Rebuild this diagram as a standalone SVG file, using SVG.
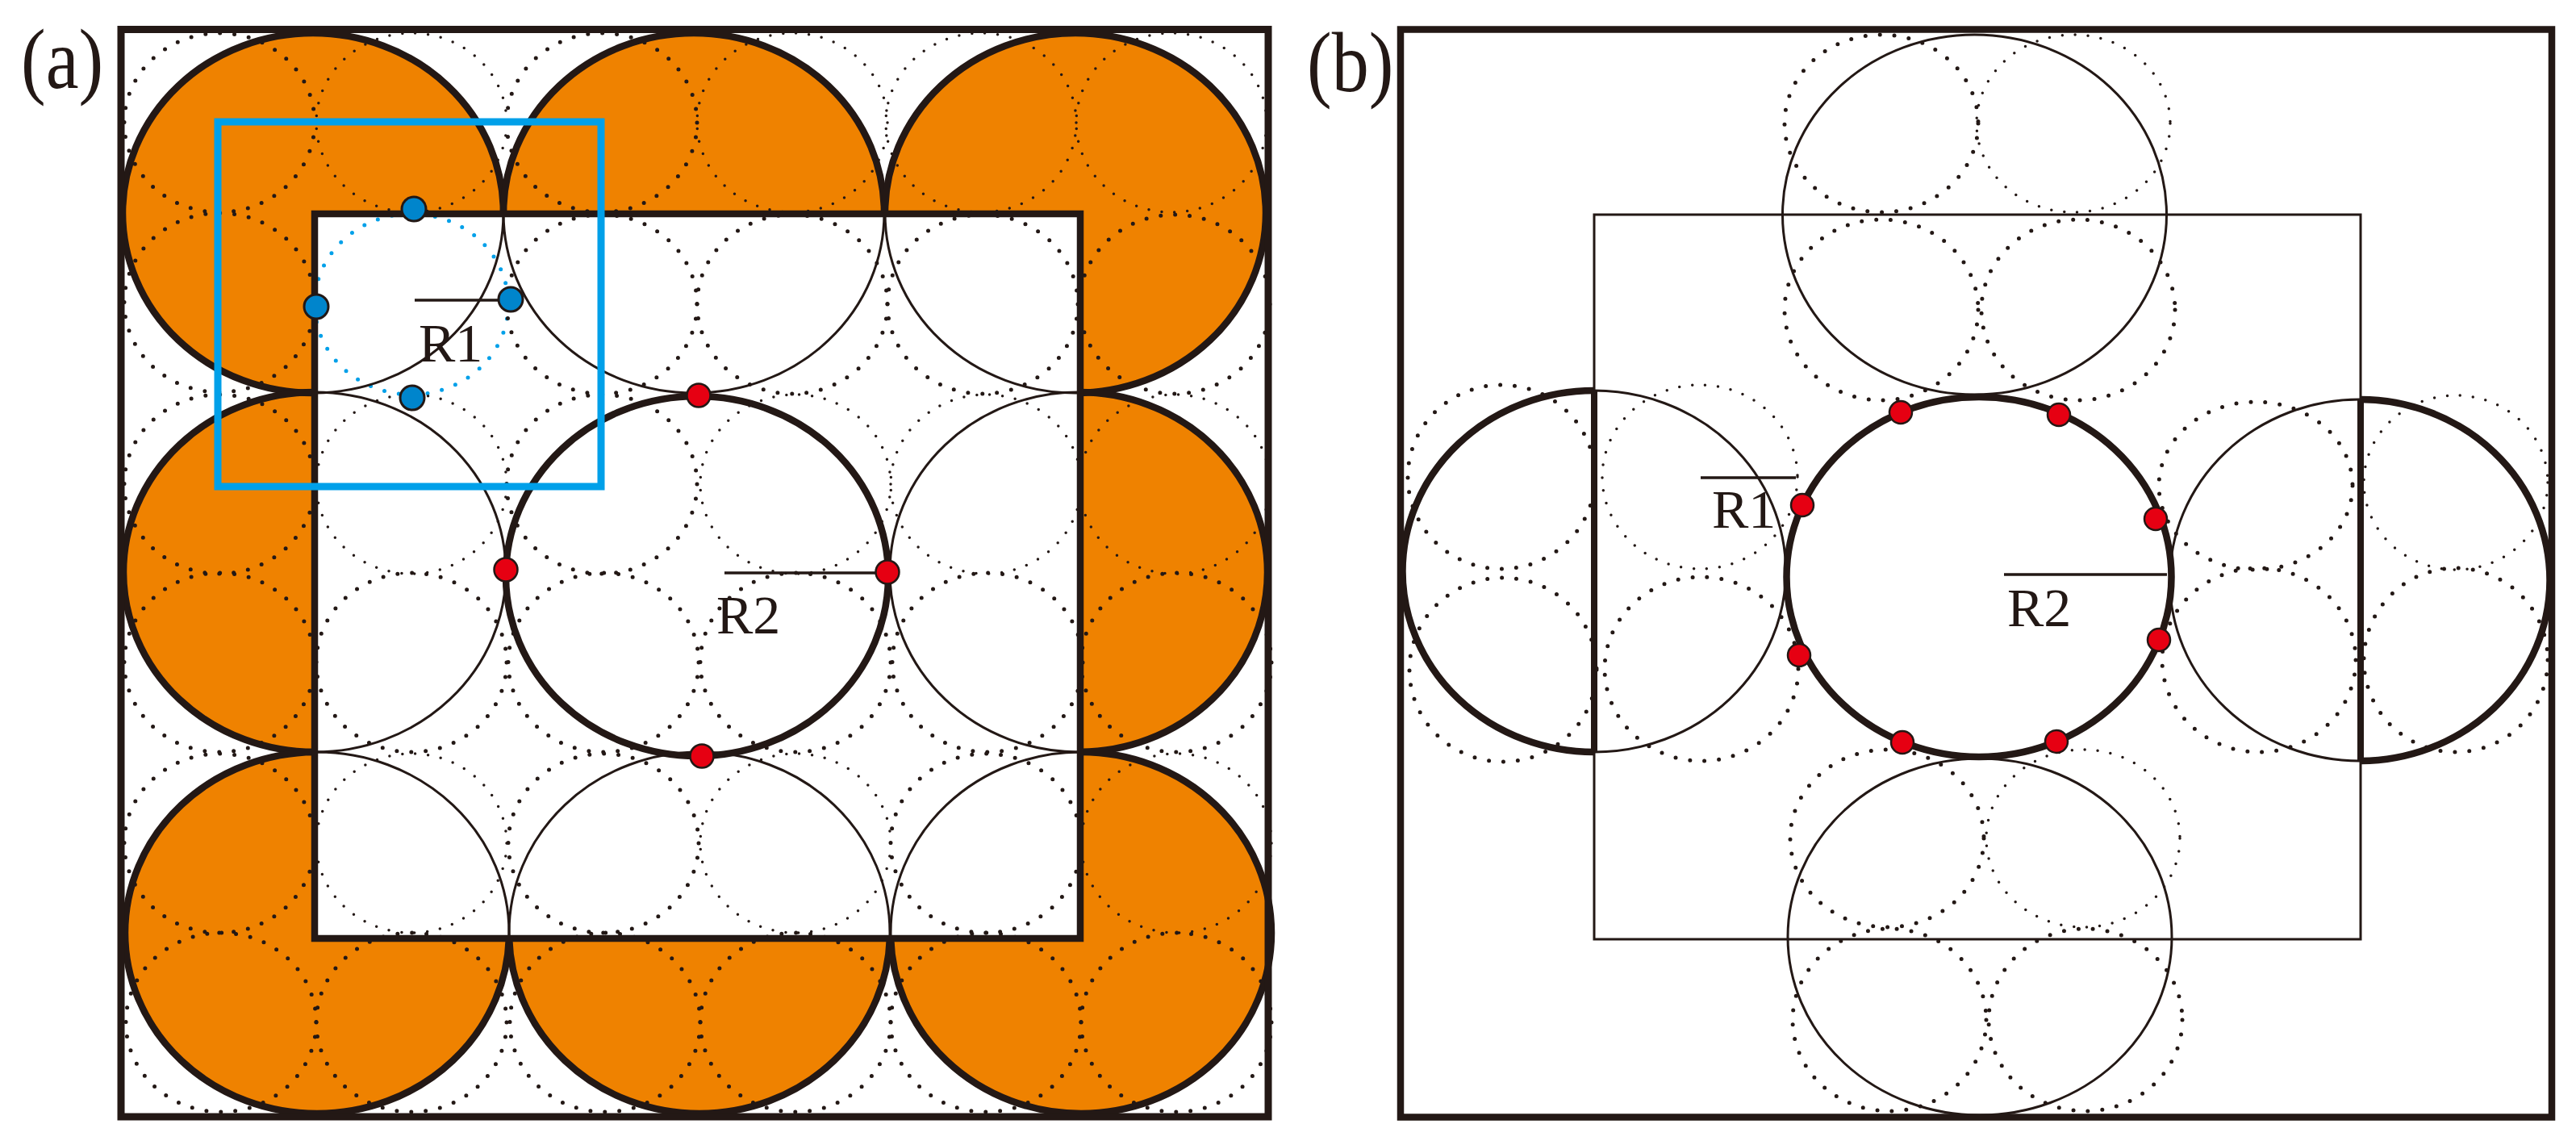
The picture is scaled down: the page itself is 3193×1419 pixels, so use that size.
<svg xmlns="http://www.w3.org/2000/svg" width="3193" height="1419" viewBox="0 0 3193 1419">
<style>
.big{fill:none;stroke:#231815}
.thick{stroke-width:8.5}
.thin{stroke-width:3}
.or{fill:#ef8200;stroke:none}
.d{fill:none;stroke:#231815;stroke-width:5;stroke-linecap:round;stroke-dasharray:0 18}
.f{fill:none;stroke:#231815;stroke-width:3.5;stroke-linecap:round;stroke-dasharray:0 16}
.bl{fill:none;stroke:#00a0e9;stroke-width:5;stroke-linecap:round;stroke-dasharray:0 18}
.line{stroke:#231815;stroke-width:3.5;fill:none}
.red{fill:#e60012;stroke:#231815;stroke-width:2.5}
.blue{fill:#0085cc;stroke:#231815;stroke-width:3}
text{font-family:"Liberation Serif","Times New Roman",serif;fill:#231815}
.lab{font-size:68px}
.pl{font-size:92px}
</style>
<defs>
<clipPath id="outA"><path clip-rule="evenodd" d="M0 0H1600V1419H0ZM390 265V1163H1339V265Z"/></clipPath>
<clipPath id="inA"><rect x="390" y="265" width="949" height="898"/></clipPath>
<clipPath id="leftB"><rect x="1700" y="400" width="276" height="600"/></clipPath>
<clipPath id="leftB2"><rect x="1976" y="400" width="278" height="600"/></clipPath>
<clipPath id="rightB"><rect x="2926" y="400" width="260" height="600"/></clipPath>
<clipPath id="rightB2"><rect x="2650" y="400" width="276" height="600"/></clipPath>
</defs>
<rect width="3193" height="1419" fill="#fff"/>
<g id="panel-a">
<g id="orange-fill" clip-path="url(#outA)">
<ellipse class="or" cx="388" cy="264" rx="236" ry="223"/>
<ellipse class="or" cx="860" cy="264" rx="236" ry="223"/>
<ellipse class="or" cx="1333" cy="264" rx="236" ry="223"/>
<ellipse class="or" cx="390" cy="709" rx="237" ry="223"/>
<ellipse class="or" cx="1337" cy="709" rx="234" ry="223"/>
<ellipse class="or" cx="393" cy="1156" rx="238" ry="224"/>
<ellipse class="or" cx="867" cy="1156" rx="236" ry="224"/>
<ellipse class="or" cx="1340" cy="1156" rx="236" ry="224"/>
</g>
<g id="small-dotted-a">
<ellipse class="d" cx="272" cy="152" rx="118" ry="111"/><ellipse class="f" cx="510" cy="152" rx="118" ry="111"/><ellipse class="d" cx="746" cy="152" rx="118" ry="111"/><ellipse class="f" cx="982" cy="152" rx="118" ry="111"/><ellipse class="f" cx="1216" cy="152" rx="118" ry="111"/><ellipse class="f" cx="1452" cy="152" rx="118" ry="111"/>
<ellipse class="d" cx="272" cy="375" rx="118" ry="111"/><ellipse class="bl" cx="510" cy="377" rx="120" ry="112"/><ellipse class="d" cx="746" cy="377" rx="118" ry="111"/><ellipse class="d" cx="982" cy="377" rx="118" ry="111"/><ellipse class="d" cx="1218" cy="377" rx="118" ry="111"/><ellipse class="d" cx="1456" cy="377" rx="118" ry="111"/>
<ellipse class="d" cx="272" cy="600" rx="118" ry="111"/><ellipse class="f" cx="510" cy="600" rx="118" ry="111"/><ellipse class="d" cx="746" cy="600" rx="118" ry="111"/><ellipse class="f" cx="986" cy="600" rx="118" ry="111"/><ellipse class="f" cx="1222" cy="600" rx="118" ry="111"/><ellipse class="f" cx="1456" cy="600" rx="118" ry="111"/>
<ellipse class="d" cx="272" cy="821" rx="118" ry="111"/><ellipse class="d" cx="510" cy="821" rx="118" ry="111"/><ellipse class="d" cx="748" cy="821" rx="118" ry="111"/><ellipse class="d" cx="986" cy="821" rx="118" ry="111"/><ellipse class="d" cx="1224" cy="821" rx="118" ry="111"/><ellipse class="d" cx="1458" cy="821" rx="118" ry="111"/>
<ellipse class="d" cx="272" cy="1045" rx="118" ry="111"/><ellipse class="f" cx="510" cy="1045" rx="118" ry="111"/><ellipse class="d" cx="748" cy="1045" rx="118" ry="111"/><ellipse class="f" cx="986" cy="1045" rx="118" ry="111"/><ellipse class="d" cx="1222" cy="1045" rx="118" ry="111"/><ellipse class="f" cx="1458" cy="1045" rx="118" ry="111"/>
<ellipse class="d" cx="274" cy="1267" rx="118" ry="111"/><ellipse class="d" cx="510" cy="1267" rx="118" ry="111"/><ellipse class="d" cx="750" cy="1267" rx="118" ry="111"/><ellipse class="d" cx="986" cy="1267" rx="118" ry="111"/><ellipse class="d" cx="1222" cy="1267" rx="118" ry="111"/><ellipse class="d" cx="1458" cy="1267" rx="118" ry="111"/>
</g>
<g id="circles-a-thin" clip-path="url(#inA)">
<ellipse class="big thin" cx="388" cy="264" rx="236" ry="223"/>
<ellipse class="big thin" cx="860" cy="264" rx="236" ry="223"/>
<ellipse class="big thin" cx="1333" cy="264" rx="236" ry="223"/>
<ellipse class="big thin" cx="390" cy="709" rx="237" ry="223"/>
<ellipse class="big thin" cx="1337" cy="709" rx="234" ry="223"/>
<ellipse class="big thin" cx="393" cy="1156" rx="238" ry="224"/>
<ellipse class="big thin" cx="867" cy="1156" rx="236" ry="224"/>
<ellipse class="big thin" cx="1340" cy="1156" rx="236" ry="224"/>
</g>
<g id="circles-a-thick" clip-path="url(#outA)">
<ellipse class="big thick" cx="388" cy="264" rx="236" ry="223"/>
<ellipse class="big thick" cx="860" cy="264" rx="236" ry="223"/>
<ellipse class="big thick" cx="1333" cy="264" rx="236" ry="223"/>
<ellipse class="big thick" cx="390" cy="709" rx="237" ry="223"/>
<ellipse class="big thick" cx="1337" cy="709" rx="234" ry="223"/>
<ellipse class="big thick" cx="393" cy="1156" rx="238" ry="224"/>
<ellipse class="big thick" cx="867" cy="1156" rx="236" ry="224"/>
<ellipse class="big thick" cx="1340" cy="1156" rx="236" ry="224"/>
</g>
<ellipse id="center-a" class="big thick" cx="864" cy="714" rx="237" ry="223"/>
<rect id="inner-a" x="390" y="265" width="949" height="898" fill="none" stroke="#231815" stroke-width="8.5"/>
<rect id="outer-a" x="150" y="36.5" width="1422" height="1347.5" fill="none" stroke="#231815" stroke-width="9"/>
<rect id="blue-box" x="270" y="151" width="475" height="452" fill="none" stroke="#00a0e9" stroke-width="9"/>
<g id="r-a">
<line class="line" x1="514" y1="372" x2="633" y2="372"/>
<line class="line" x1="898" y1="710" x2="1100" y2="710"/>
</g>
<g id="points-a">
<circle class="blue" cx="513" cy="259" r="15"/><circle class="blue" cx="392" cy="380" r="15"/><circle class="blue" cx="633" cy="371" r="15"/><circle class="blue" cx="511" cy="493" r="15"/>
<circle class="red" cx="866" cy="490" r="14.5"/><circle class="red" cx="627" cy="706" r="14.5"/><circle class="red" cx="1100" cy="709" r="14.5"/><circle class="red" cx="870" cy="937" r="14.5"/>
</g>
<text class="lab" x="519" y="448">R1</text>
<text class="lab" x="888" y="785">R2</text>
<text class="pl" transform="translate(26 109) scale(1 1.16)">(a)</text>
</g>
<g id="panel-b">
<g id="small-dotted-b">
<ellipse class="d" cx="2332" cy="153" rx="120" ry="110"/><ellipse class="f" cx="2570" cy="153" rx="120" ry="110"/><ellipse class="d" cx="2332" cy="384" rx="120" ry="112"/><ellipse class="d" cx="2576" cy="384" rx="120" ry="112"/>
<ellipse class="d" cx="2339" cy="1039" rx="120" ry="110"/><ellipse class="f" cx="2582" cy="1039" rx="120" ry="110"/><ellipse class="d" cx="2342" cy="1264" rx="120" ry="113"/><ellipse class="d" cx="2585" cy="1264" rx="120" ry="113"/>
<ellipse class="d" cx="1861" cy="591" rx="116" ry="114"/><ellipse class="f" cx="2107" cy="591" rx="121" ry="114"/><ellipse class="d" cx="1863" cy="830" rx="116" ry="114"/><ellipse class="d" cx="2109" cy="829" rx="120" ry="114"/>
<ellipse class="d" cx="2796" cy="602" rx="120" ry="104"/><ellipse class="f" cx="3044" cy="598" rx="114" ry="108"/><ellipse class="d" cx="2800" cy="818" rx="120" ry="114"/><ellipse class="d" cx="3044" cy="818" rx="114" ry="114"/>
</g>
<rect id="inner-b" x="1976" y="266" width="950" height="898" fill="none" stroke="#231815" stroke-width="3"/>
<ellipse id="top-b" class="big thin" cx="2447.5" cy="266" rx="238" ry="223"/>
<ellipse id="bottom-b" class="big thin" cx="2454" cy="1161" rx="238" ry="221"/>
<g id="left-b">
<ellipse class="big thin" clip-path="url(#leftB2)" cx="1976" cy="708" rx="237.5" ry="224"/>
<ellipse class="big thick" clip-path="url(#leftB)" cx="1976" cy="708" rx="237.5" ry="224"/>
<line x1="1976" y1="484" x2="1976" y2="932" stroke="#231815" stroke-width="8"/>
</g>
<g id="right-b">
<ellipse class="big thin" clip-path="url(#rightB2)" cx="2925" cy="719" rx="235.5" ry="224"/>
<ellipse class="big thick" clip-path="url(#rightB)" cx="2925" cy="719" rx="235.5" ry="224"/>
<line x1="2926" y1="495" x2="2926" y2="943" stroke="#231815" stroke-width="8"/>
</g>
<ellipse id="center-b" class="big thick" cx="2453" cy="715" rx="238.5" ry="223"/>
<rect id="outer-b" x="1736" y="36.5" width="1427" height="1348" fill="none" stroke="#231815" stroke-width="8.5"/>
<g id="r-b">
<line class="line" x1="2108" y1="592" x2="2226" y2="592"/>
<line class="line" x1="2484" y1="712" x2="2686" y2="712"/>
</g>
<g id="points-b">
<circle class="red" cx="2356" cy="511" r="14"/><circle class="red" cx="2552" cy="514" r="14"/><circle class="red" cx="2234" cy="626" r="14"/><circle class="red" cx="2672" cy="643" r="14"/><circle class="red" cx="2230" cy="812" r="14"/><circle class="red" cx="2676" cy="793" r="14"/><circle class="red" cx="2358" cy="920" r="14"/><circle class="red" cx="2549" cy="919" r="14"/>
</g>
<text class="lab" x="2122" y="654">R1</text>
<text class="lab" x="2488" y="776">R2</text>
<text class="pl" transform="translate(1620 113) scale(1 1.16)">(b)</text>
</g>
</svg>
